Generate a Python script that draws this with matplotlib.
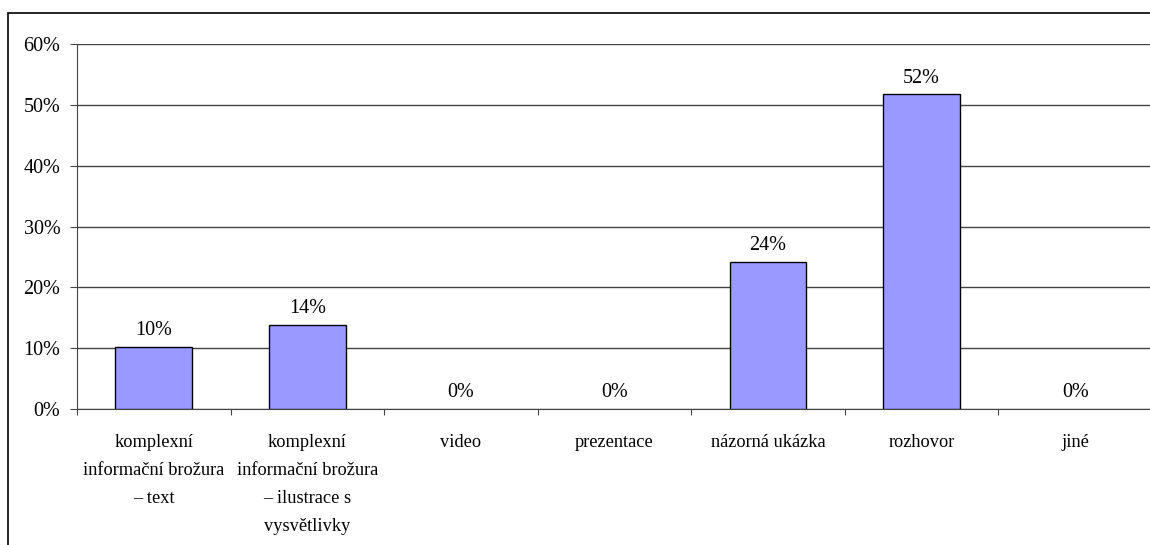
import matplotlib.pyplot as plt
from matplotlib.patches import Rectangle
from matplotlib.ticker import FixedLocator, PercentFormatter

plt.rcParams['font.family'] = ['Liberation Serif', 'DejaVu Serif']

categories = [
    'komplexní\ninformační brožura\n– text',
    'komplexní\ninformační brožura\n– ilustrace s\nvysvětlivky',
    'video',
    'prezentace',
    'názorná ukázka',
    'rozhovor',
    'jiné',
]
shares = [10.2, 13.8, 0, 0, 24.2, 51.7, 0]
y_ticks = [0, 10, 20, 30, 40, 50, 60]

fig = plt.figure(figsize=(11.5, 5.45), dpi=100)

# frame around the chart area
fig.patches.append(Rectangle((8 / 1150, -0.05), 1.2, 1 - 13 / 545 + 0.05,
                             transform=fig.transFigure, fill=False,
                             edgecolor='black', linewidth=1.2))

ax = fig.add_axes([77 / 1150, 1 - 409 / 545, 1075 / 1150, 365 / 545])

x = list(range(len(categories)))
bars = ax.bar(x, shares, width=0.5, color='#9999ff',
              edgecolor=['black' if v > 0 else 'none' for v in shares],
              linewidth=1, zorder=3)

for rect, v in zip(bars, shares):
    ax.annotate(f'{v:.0f}%', (rect.get_x() + rect.get_width() / 2, v),
                xytext=(0, 5), textcoords='offset points',
                ha='center', va='bottom', fontsize=14.5)

ax.set_xlim(-0.5, len(categories) - 0.5)
ax.set_ylim(0, 60)
ax.yaxis.set_major_locator(FixedLocator(y_ticks))
ax.yaxis.set_major_formatter(PercentFormatter(decimals=0))
ax.grid(axis='y', color='#444444', linewidth=1, zorder=0)

# category names sit between the boundary ticks
ax.set_xticks([i - 0.5 for i in range(len(categories) + 1)])
ax.set_xticklabels([])
ax.set_xticks(x, minor=True)
ax.set_xticklabels(categories, minor=True, fontsize=13.2, linespacing=1.85,
                   va='top')
ax.tick_params(axis='x', which='minor', length=0, pad=18)
ax.tick_params(axis='x', which='major', length=4.5, direction='out',
               color='#444444')
ax.tick_params(axis='y', length=5, direction='out', labelsize=14.5, pad=7,
               color='#444444')

for side in ['top', 'right']:
    ax.spines[side].set_visible(False)
ax.spines['left'].set_color('#444444')
ax.spines['bottom'].set_color('#444444')

fig.savefig('out.png', dpi=100)
